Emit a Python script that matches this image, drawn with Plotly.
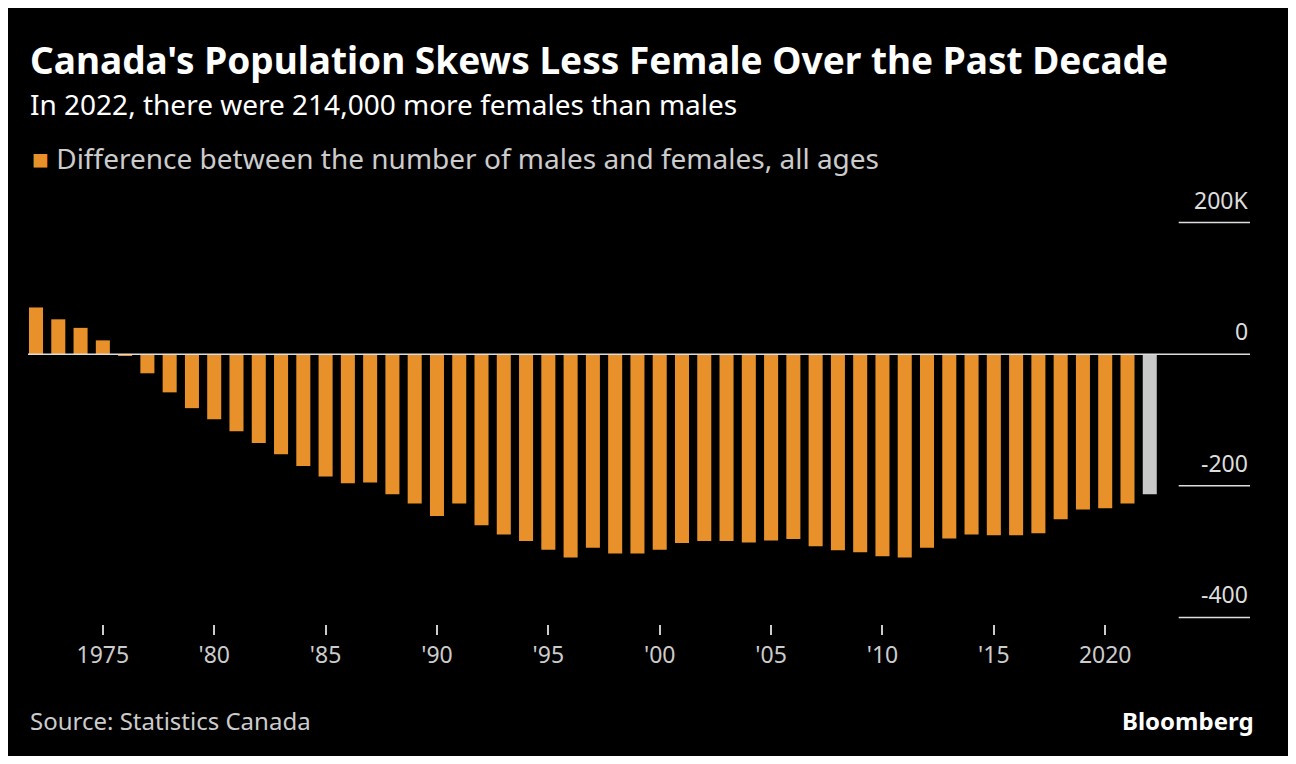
import plotly.graph_objects as go

years = list(range(1972, 2023))
diff = [71, 53, 40, 21, -2, -29, -58, -82, -99, -117, -135, -152, -170, -186, -196, -195,
        -213, -227, -246, -227, -260, -274, -284, -297, -309, -294, -303, -303, -297, -287,
        -284, -284, -286, -283, -281, -292, -298, -301, -307, -309, -294, -280, -274, -275,
        -275, -272, -251, -236, -234, -227, -213]
tick_years = [1975, 1980, 1985, 1990, 1995, 2000, 2005, 2010, 2015, 2020]
tick_text = ["1975", "'80", "'85", "'90", "'95", "'00", "'05", "'10", "'15", "2020"]
y_ticks = [200, 0, -200, -400]
y_text = ["200K", "0", "-200", "-400"]

colors = ["#e8912a"] * (len(years) - 1) + ["#c8c8c8"]

fig = go.Figure()
fig.add_trace(go.Bar(x=years, y=diff, marker_color=colors, marker_line_width=0, width=0.63))

# zero line and short right-side tick lines
fig.add_shape(type="line", xref="paper", x0=0, x1=1, y0=0, y1=0,
              line=dict(color="#dddddd", width=1.5))
for v, t in zip(y_ticks, y_text):
    if v != 0:
        fig.add_shape(type="line", xref="x", x0=2023.3, x1=2026.5, y0=v, y1=v,
                      line=dict(color="#dddddd", width=1.5))
    fig.add_annotation(text=t, xref="paper", x=1, xanchor="right", y=v, yanchor="bottom",
                       yshift=5, showarrow=False, font=dict(size=23, color="#dddddd"))

fig.add_annotation(text="<b>Canada's Population Skews Less Female Over the Past Decade</b>",
                   xref="paper", yref="paper", x=0, xanchor="left", y=1.0, yshift=157,
                   yanchor="middle", showarrow=False, font=dict(size=37, color="white"))
fig.add_annotation(text="In 2022, there were 214,000 more females than males",
                   xref="paper", yref="paper", x=0, xanchor="left", y=1.0, yshift=112,
                   yanchor="middle", showarrow=False, font=dict(size=28, color="white"))
fig.add_annotation(text="<span style='color:#e8912a'>■</span> Difference between the number of males and females, all ages",
                   xref="paper", yref="paper", x=0.002, xanchor="left", y=1.0, yshift=58,
                   yanchor="middle", showarrow=False, font=dict(size=28, color="#cccccc"))
fig.add_annotation(text="Source: Statistics Canada", xref="paper", yref="paper",
                   x=0.0, xanchor="left", y=0, yshift=-96, yanchor="middle",
                   showarrow=False, font=dict(size=24, color="#cccccc"))
fig.add_annotation(text="<b>Bloomberg</b>", xref="paper", yref="paper",
                   x=1.005, xanchor="right", y=0, yshift=-96, yanchor="middle",
                   showarrow=False, font=dict(size=24, color="white"))

fig.update_layout(
    width=1280, height=748,
    paper_bgcolor="black", plot_bgcolor="black",
    margin=dict(l=20, r=38, t=208, b=132),
    font=dict(family="Noto Sans", color="#cccccc"),
    showlegend=False,
    xaxis=dict(range=[1971.64, 2026.5], tickvals=tick_years, ticktext=tick_text,
               showgrid=False, zeroline=False, showline=False,
               ticks="outside", ticklen=10, tickwidth=1.5, tickcolor="#cccccc",
               tickfont=dict(size=23, color="#cccccc")),
    yaxis=dict(range=[-410, 210], showgrid=False, zeroline=False,
               showticklabels=False, showline=False),
)
fig.write_html("out.html")
